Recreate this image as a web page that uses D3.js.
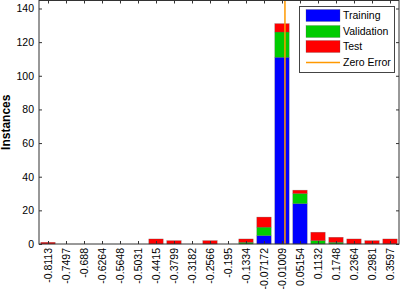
<!DOCTYPE html>
<html><head><meta charset="utf-8">
<script src="https://cdn.jsdelivr.net/npm/d3@7/dist/d3.min.js"></script>
<style>body{margin:0;background:#fff}svg{display:block}text{font-family:"Liberation Sans",Arial,sans-serif}</style>
</head><body>
<script>
const binLabels = ["-0.8113","-0.7497","-0.688","-0.6264","-0.5648","-0.5031","-0.4415","-0.3799","-0.3182","-0.2566","-0.195","-0.1334","-0.07172","-0.01009","0.05154","0.1132","0.1748","0.2364","0.2981","0.3597"];
const training   = [0,0,0,0,0,0,0,0,0,0,0,0,5,111,24,0,0,0,0,0];
const validation = [0,0,0,0,0,0,0,0,0,0,0,1,5,15,6,2,1,0,0,0];
const test       = [1,0,0,0,0,0,3,2,0,2,0,2,6,5,2,5,3,3,2,3];
const yTicks = [0,20,40,60,80,100,120,140];
const seriesNames = ["Training","Validation","Test"];
const seriesColors = ["#0000ff","#00cc00","#ff0000"];
const zeroLabel = "Zero Error";

const W = 401, H = 289;
const L = 39, R = 399, T = 0.5, B = 244;
const svg = d3.select("body").append("svg").attr("width", W).attr("height", H);

const centers = binLabels.map(Number);
const bw = (centers[centers.length-1] - centers[0]) / (centers.length - 1);
const x = d3.scaleLinear().domain([centers[0] - bw/2, centers[centers.length-1] + bw/2]).range([L, R]);
const y = d3.scaleLinear().domain([0, 144.75]).range([B, T]);

const rows = centers.map((c, i) => ({c, Training: training[i], Validation: validation[i], Test: test[i]}));
const stack = d3.stack().keys(seriesNames)(rows);
const barW = x(centers[0] + bw*0.4) - x(centers[0] - bw*0.4);

stack.forEach((layer, k) => {
  svg.append("g").selectAll("rect").data(layer.filter(d => d[1] > d[0])).join("rect")
    .attr("x", d => x(d.data.c) - barW/2)
    .attr("width", barW)
    .attr("y", d => y(d[1]))
    .attr("height", d => y(d[0]) - y(d[1]))
    .attr("fill", seriesColors[k])
    .attr("stroke", "#555").attr("stroke-opacity", 0.5).attr("stroke-width", 0.5);
});

// zero error line
svg.append("line").attr("x1", x(0)).attr("x2", x(0)).attr("y1", B).attr("y2", T)
  .attr("stroke", "#ff9900").attr("stroke-width", 1.5);

// axes
const ax = "#333";
svg.append("rect").attr("x", L).attr("y", T).attr("width", R - L).attr("height", B - T)
  .attr("fill", "none").attr("stroke", ax).attr("stroke-width", 1);

const gy = svg.append("g").attr("transform", `translate(${L},0)`)
  .call(d3.axisLeft(y).tickValues(yTicks).tickSize(-3).tickPadding(5).tickFormat(d3.format("d")));
const gyr = svg.append("g").attr("transform", `translate(${R},0)`)
  .call(d3.axisRight(y).tickValues(yTicks).tickSize(-3).tickFormat(""));
const gx = svg.append("g").attr("transform", `translate(0,${B})`)
  .call(d3.axisBottom(x).tickValues(centers).tickSize(-3).tickFormat((d, i) => binLabels[i]));
const gxt = svg.append("g").attr("transform", `translate(0,${T})`)
  .call(d3.axisTop(x).tickValues(centers).tickSize(-3).tickFormat(""));
[gy, gyr, gx, gxt].forEach(g => {
  g.select(".domain").remove();
  g.selectAll(".tick line").attr("stroke", ax);
  g.selectAll("text").attr("fill", "#000").attr("font-size", 10.5);
});
gx.selectAll(".tick text")
  .attr("transform", "rotate(-90)")
  .attr("text-anchor", "end")
  .attr("x", -4).attr("y", 0).attr("dy", "0.35em");

svg.append("text").attr("transform", `translate(10,${(B+T)/2}) rotate(-90)`)
  .attr("text-anchor", "middle").attr("font-weight", "bold").attr("font-size", 12)
  .text("Instances");

// legend
const lg = svg.append("g");
lg.append("rect").attr("x", 299.5).attr("y", 6.5).attr("width", 95).attr("height", 66)
  .attr("fill", "#fff").attr("stroke", "#444").attr("stroke-width", 1);
const rowY = [15.5, 31.5, 46.5];
seriesNames.forEach((n, k) => {
  lg.append("rect").attr("x", 306).attr("y", rowY[k] - 6).attr("width", 34).attr("height", 12)
    .attr("fill", seriesColors[k]).attr("stroke", "#555").attr("stroke-opacity", 0.5).attr("stroke-width", 0.5);
  lg.append("text").attr("x", 343).attr("y", rowY[k]).attr("dy", "0.35em").attr("font-size", 10.5).text(n);
});
lg.append("line").attr("x1", 306).attr("x2", 340).attr("y1", 62.5).attr("y2", 62.5)
  .attr("stroke", "#ff9900").attr("stroke-width", 1.5);
lg.append("text").attr("x", 343).attr("y", 62.5).attr("dy", "0.35em").attr("font-size", 10.5).text(zeroLabel);
</script>
</body></html>
